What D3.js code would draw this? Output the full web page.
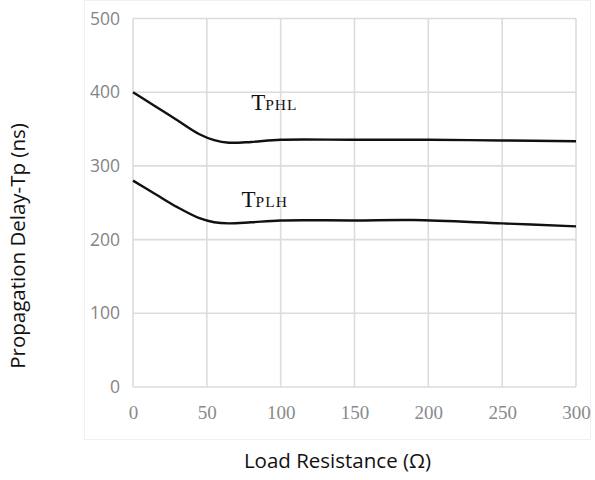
<!DOCTYPE html>
<html><head><meta charset="utf-8">
<script src="https://cdn.jsdelivr.net/npm/d3@7"></script>
<style>body{margin:0;background:#fff}svg{display:block}</style>
</head><body>
<svg id="c" width="595" height="480"></svg>
<script>
const xTicks = [0, 50, 100, 150, 200, 250, 300];
const yTicks = [0, 100, 200, 300, 400, 500];
const tphlX = [0, 15, 30, 45, 55, 65, 80, 100, 150, 200, 250, 300];
const tphlY = [400, 381, 362, 343, 335, 331.5, 332.5, 335.5, 335.5, 335.5, 334.5, 333.5];
const tplhX = [0, 15, 30, 45, 55, 65, 80, 100, 150, 190, 250, 300];
const tplhY = [280, 262, 244, 229, 223.5, 222, 223.5, 226, 226, 226.5, 222, 218];
const seriesLabels = [
  {main: "T", sub: "PHL", x: 80, y: 376},
  {main: "T", sub: "PLH", x: 73.5, y: 244.5}
];

const svg = d3.select("#c");
const x = d3.scaleLinear().domain([0, 300]).range([133, 576]);
const y = d3.scaleLinear().domain([0, 500]).range([387, 18.5]);

// faint outer frame
svg.append("rect").attr("x", 84.5).attr("y", 0.5).attr("width", 506).attr("height", 439)
  .attr("fill", "none").attr("stroke", "#f0f0f0").attr("stroke-width", 1);

// gridlines
svg.append("g").selectAll("line").data(xTicks).join("line")
  .attr("x1", d => x(d)).attr("x2", d => x(d)).attr("y1", y(500)).attr("y2", y(0))
  .attr("stroke", "#dcdcdc").attr("stroke-width", 1.6);
svg.append("g").selectAll("line").data(yTicks).join("line")
  .attr("x1", x(0)).attr("x2", x(300)).attr("y1", d => y(d)).attr("y2", d => y(d))
  .attr("stroke", "#dcdcdc").attr("stroke-width", 1.6);

// axes labels via d3 axes
const xAxis = svg.append("g").attr("transform", `translate(0,${y(0)})`)
  .call(d3.axisBottom(x).tickValues(xTicks).tickSize(0).tickPadding(19));
xAxis.select(".domain").remove();
xAxis.selectAll("text").attr("fill", "#8a8a8a").attr("font-family", "Liberation Serif, serif").attr("font-size", 19);

const yAxis = svg.append("g").attr("transform", `translate(${x(0) - 13},0)`)
  .call(d3.axisLeft(y).tickValues(yTicks).tickSize(0).tickPadding(0));
yAxis.select(".domain").remove();
yAxis.selectAll("text").attr("fill", "#858585").attr("font-family", "Open Sans, sans-serif").attr("font-size", 17.5);

// curves
const line = d3.line().x(d => x(d[0])).y(d => y(d[1])).curve(d3.curveCatmullRom.alpha(0.5));
const s1 = tphlX.map((v, i) => [v, tphlY[i]]);
const s2 = tplhX.map((v, i) => [v, tplhY[i]]);
[s1, s2].forEach(s => svg.append("path").datum(s).attr("d", line)
  .attr("fill", "none").attr("stroke", "#111").attr("stroke-width", 2.4));

// series labels
seriesLabels.forEach(l => {
  const t = svg.append("text").attr("x", x(l.x)).attr("y", y(l.y))
    .attr("font-family", "Liberation Serif, Times New Roman, serif").attr("fill", "#111");
  t.append("tspan").attr("font-size", 23).text(l.main);
  t.append("tspan").attr("font-size", 15.5).attr("letter-spacing", 1).text(l.sub);
});

// axis titles
svg.append("text").attr("x", 337.5).attr("y", 468).attr("text-anchor", "middle")
  .attr("font-family", "Open Sans, sans-serif").attr("font-size", 20.5).attr("fill", "#111")
  .text("Load Resistance (Ω)");
svg.append("text").attr("transform", "translate(25,246) rotate(-90)").attr("text-anchor", "middle")
  .attr("font-family", "Open Sans, sans-serif").attr("font-size", 20.5).attr("fill", "#111")
  .text("Propagation Delay-Tp (ns)");
</script>
</body></html>
